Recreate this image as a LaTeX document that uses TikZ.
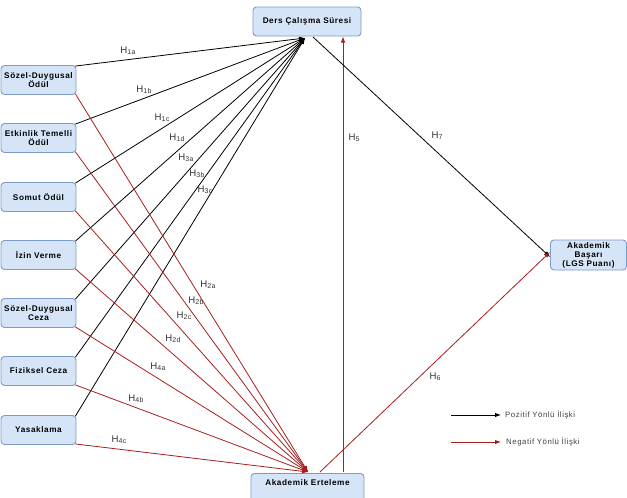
\documentclass[tikz,border=0pt]{standalone}
\usepackage{fontspec}
\setmainfont{Liberation Sans}
\newfontfamily\boxfont[LetterSpace=7]{Liberation Sans}
\newfontfamily\labfont[LetterSpace=5]{Liberation Sans}
\usetikzlibrary{arrows.meta}
\definecolor{boxfill}{HTML}{D6E4F7}
\definecolor{boxline}{HTML}{7D9BC8}
\definecolor{negred}{HTML}{A81E1E}
\newcommand{\Hl}[1]{H\raisebox{-0.8pt}{\fontsize{7}{7}\selectfont #1}}
\tikzset{
  varbox/.style={draw=boxline, fill=boxfill, line width=0.9pt, rounded corners=3.5pt,
    minimum width=75pt, minimum height=29pt, inner sep=0.5pt, align=center,
    font=\boxfont\fontsize{8.2}{9}\selectfont\bfseries},
  posarrow/.style={-{Latex[length=6pt,width=4.5pt]}, black, line width=0.8pt},
  negarrow/.style={-{Latex[length=6pt,width=4.5pt]}, negred, line width=0.8pt},
  hlab/.style={font=\labfont\fontsize{9.6}{10}\selectfont, text=black!80, inner sep=0pt},
  legtext/.style={font=\boxfont\fontsize{7.8}{8}\selectfont, text=black!75, anchor=west, inner sep=0pt}
}
\begin{document}
\begin{tikzpicture}[x=1pt,y=-1pt]
\useasboundingbox (0,0) rectangle (627,498);
\clip (0,0) rectangle (627,498);
% boxes
\node[varbox] (sdo) at (38.5,80) {Sözel-Duygusal\\Ödül};
\node[varbox] (eto) at (38.5,138) {Etkinlik Temelli\\Ödül};
\node[varbox] (so) at (38.5,197) {Somut Ödül};
\node[varbox] (iv) at (38.5,255) {İzin Verme};
\node[varbox] (sdc) at (38.5,313) {Sözel-Duygusal\\Ceza};
\node[varbox] (fc) at (38.5,371) {Fiziksel Ceza};
\node[varbox] (ya) at (38.5,430) {Yasaklama};
\node[varbox, minimum width=108pt] (dcs) at (307,21.5) {Ders Çalışma Süresi};
\node[varbox, minimum width=113pt, minimum height=32pt, anchor=north] (ae) at (307.5,473) {Akademik Erteleme\\[4pt]\mbox{}};
\node[varbox, minimum width=76pt, minimum height=30pt] (ab) at (588.5,255) {Akademik\\Başarı\\(LGS Puanı)};
% convergence points
\coordinate (dt) at (305,38);
\coordinate (et) at (308,472);
\coordinate (h5s) at (343,472);
\coordinate (h5e) at (343,36.5);
\coordinate (h7s) at (313,37);
\coordinate (h6s) at (320,472);
% black lines
\foreach \n in {sdo,eto,so,iv,sdc,fc,ya} {\draw[posarrow] ([xshift=-1pt,yshift=-1pt]\n.north east) -- (dt);}
% red lines
\foreach \n in {sdo,eto,so,iv,sdc,fc,ya} {\draw[negarrow] ([xshift=-1pt,yshift=1pt]\n.south east) -- (et);}
\draw[negarrow] (h5s) -- (h5e);
\draw[posarrow] (h7s) -- ([yshift=-2pt]ab.west);
\draw[negarrow] (h6s) -- ([yshift=3pt]ab.west);
% labels
\node[hlab] (l1a) at (128,51) {\Hl{1a}};
\node[hlab] (l1b) at (144,90) {\Hl{1b}};
\node[hlab] (l1c) at (162,118) {\Hl{1c}};
\node[hlab] (l1d) at (177,138) {\Hl{1d}};
\node[hlab] (l3a) at (186,158) {\Hl{3a}};
\node[hlab] (l3b) at (197,174) {\Hl{3b}};
\node[hlab] (l3c) at (205,190) {\Hl{3c}};
\node[hlab] (l2a) at (208,285) {\Hl{2a}};
\node[hlab] (l2b) at (196,301) {\Hl{2b}};
\node[hlab] (l2c) at (184,316) {\Hl{2c}};
\node[hlab] (l2d) at (173,339) {\Hl{2d}};
\node[hlab] (l4a) at (158,367) {\Hl{4a}};
\node[hlab] (l4b) at (136,399) {\Hl{4b}};
\node[hlab] (l4c) at (119,440) {\Hl{4c}};
\node[hlab] (l5) at (354,138) {\Hl{5}};
\node[hlab] (l7) at (437,136) {\Hl{7}};
\node[hlab] (l6) at (435,377) {\Hl{6}};
% legend
\coordinate (lp1) at (451,415);
\coordinate (lp2) at (501,415);
\coordinate (ln1) at (451,442);
\coordinate (ln2) at (501,442);
\draw[posarrow, line width=0.9pt] (lp1) -- (lp2);
\draw[negarrow, line width=0.9pt] (ln1) -- (ln2);
\node[legtext] (lpt) at (505,415) {Pozitif Yönlü İlişki};
\node[legtext] (lnt) at (506,442) {Negatif Yönlü İlişki};
\end{tikzpicture}
\end{document}
